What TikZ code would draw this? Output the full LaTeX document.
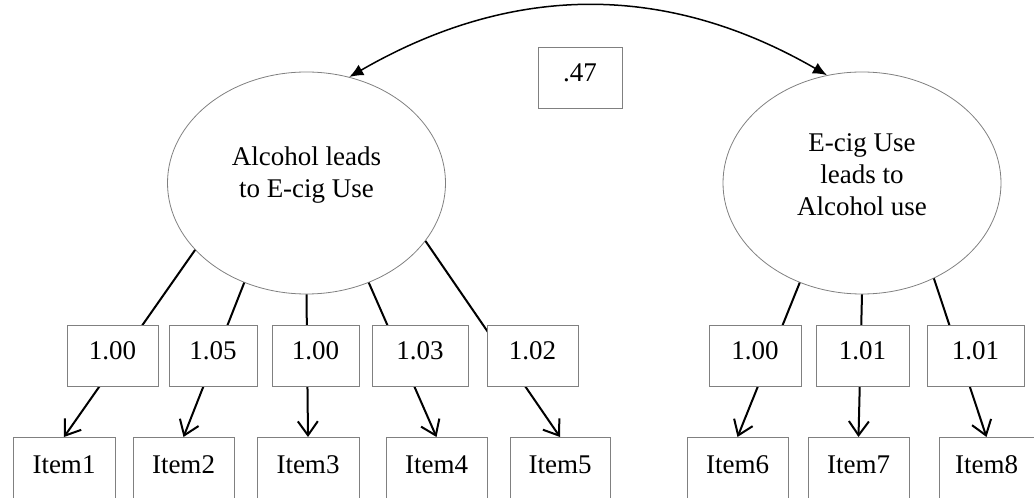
\documentclass[tikz,border=0pt]{standalone}
\usepackage{fontspec}
\setmainfont{Liberation Serif}
\usetikzlibrary{arrows.meta, shapes.geometric}

\begin{document}
\begin{tikzpicture}[x=0.5pt, y=0.5pt,
	latent/.style={draw=gray, line width=0.4pt, ellipse, minimum width=139pt, minimum height=111pt, inner sep=0pt},
	latenttext/.style={align=center, font=\fontsize{13.5}{16}\selectfont},
	loadbox/.style={draw=gray, line width=0.5pt, fill=white, inner xsep=0pt, inner ysep=4pt,
		text height=13pt, text depth=9.5pt, font=\fontsize{13.5}{16}\selectfont},
	itembox/.style={draw=gray, line width=0.5pt, anchor=north, inner xsep=0pt, inner ysep=4pt,
		text height=14pt, text depth=20pt, font=\fontsize{13.5}{16}\selectfont},
	loading/.style={line width=1pt, -{Straight Barb[length=7pt, width=10pt]}},
	covar/.style={line width=0.75pt, {Latex[length=7pt, width=6pt]}-{Latex[length=7pt, width=6pt]}}]
		
		\useasboundingbox (0,0) rectangle (1034,498);
		\clip (0,0) rectangle (1034,498);
		
		%Latent factors
		\node[latent] (alc) at (306.5,315) {};
		\node[latenttext, yshift=4pt] (alctext) at (alc.center) {Alcohol leads\\to E-cig Use};
		\node[latent] (ecig) at (862,315) {};
		\node[latenttext, yshift=4pt] (ecigtext) at (ecig.center) {E-cig Use\\leads to\\Alcohol use};
		
		%Indicators
		\node[itembox, minimum width=51pt] (item1) at (64,61) {Item1};
		\node[itembox, minimum width=50.5pt] (item2) at (183.5,61) {Item2};
		\node[itembox, minimum width=51pt] (item3) at (308,61) {Item3};
		\node[itembox, minimum width=50.5pt] (item4) at (436.5,61) {Item4};
		\node[itembox, minimum width=50pt] (item5) at (560,61) {Item5};
		\node[itembox, minimum width=50.5pt] (item6) at (737.5,61) {Item6};
		\node[itembox, minimum width=50.5pt] (item7) at (858.5,61) {Item7};
		\node[itembox, minimum width=47.5pt] (item8) at (986.5,61) {Item8};
		
		%Factor loadings
		\draw[loading] (alc.211) -- (item1.north);
		\draw[loading] (alc.238) -- (item2.north);
		\draw[loading] (alc.270) -- (item3.north);
		\draw[loading] (alc.302) -- (item4.north);
		\draw[loading] (alc.334) -- (item5.north);
		\draw[loading] (ecig.238.5) -- (item6.north);
		\draw[loading] (ecig.270) -- (item7.north);
		\draw[loading] (ecig.307) -- (item8.north);
		
		\node[loadbox, minimum width=45.5pt] (load1) at (112.5,141.5) {1.00};
		\node[loadbox, minimum width=44pt] (load2) at (213,141.5) {1.05};
		\node[loadbox, minimum width=43.5pt] (load3) at (315.5,141.5) {1.00};
		\node[loadbox, minimum width=48pt] (load4) at (420,141.5) {1.03};
		\node[loadbox, minimum width=45.5pt] (load5) at (532.5,141.5) {1.02};
		\node[loadbox, minimum width=46pt] (load6) at (755,141.5) {1.00};
		\node[loadbox, minimum width=46.5pt] (load7) at (862.5,141.5) {1.01};
		\node[loadbox, minimum width=48.5pt] (load8) at (975.5,141.5) {1.01};
		
		%Factor correlation
		\draw[covar] (alc.68) to[out=30, in=150] (ecig.108);
		\node[loadbox, minimum width=42pt] (corr) at (580,419.5) {.47};
		
\end{tikzpicture}
\end{document}
